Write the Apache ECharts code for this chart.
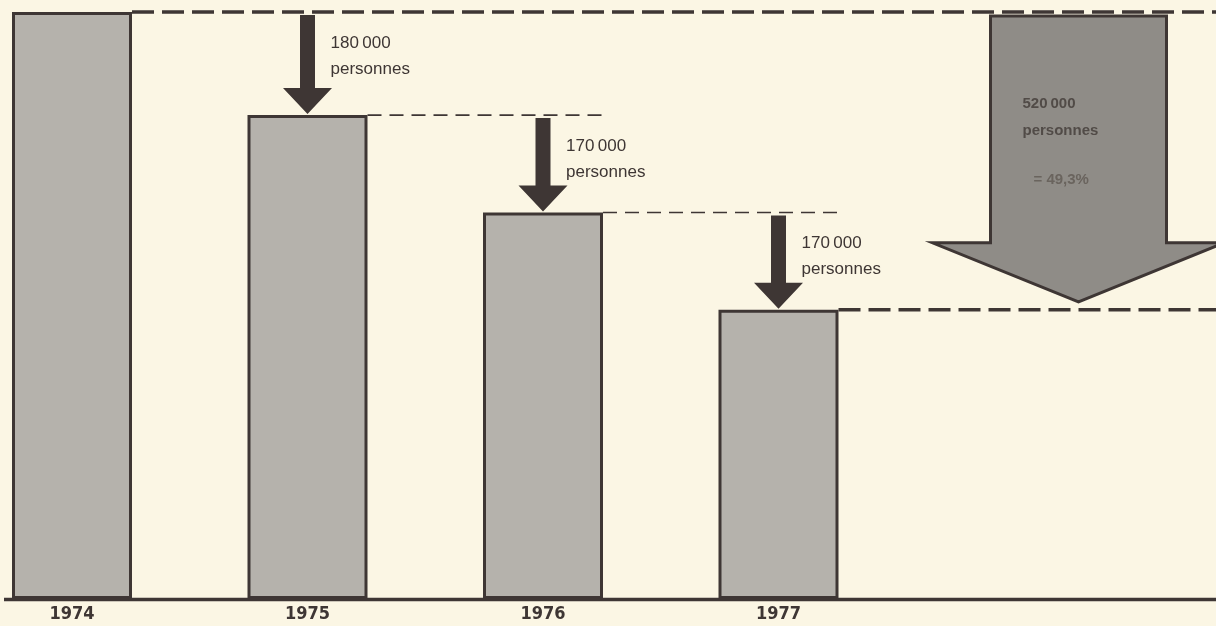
<!DOCTYPE html>
<html><head><meta charset="utf-8">
<script src="https://cdn.jsdelivr.net/npm/echarts@6/dist/echarts.min.js"></script>
<style>html,body{margin:0;padding:0;background:#FBF6E4;} #c{width:1216px;height:626px;}</style>
</head><body><div id="c"></div>
<script>
// ---- data ----
const years = ['1974', '1975', '1976', '1977'];
const persons = [1055000, 875000, 705000, 535000];
const dropLabels = ['180\u202F000', '170\u202F000', '170\u202F000'];
const unitLabel = 'personnes';
const totalDropLabel = '520\u202F000';
const totalPctLabel = '= 49,3%';

// ---- styles ----
const INK = '#3E3634';
const BAR = '#B5B2AC';
const BIG = '#8F8C87';
const BG = '#FBF6E4';
const HALF_BAR = 60;

const chart = echarts.init(document.getElementById('c'), null, {renderer: 'canvas'});

const stepData = [];
for (let i = 1; i < persons.length; i++) stepData.push([i, persons[i - 1], persons[i], dropLabels[i - 1]]);
const connData = persons.map((v, i) => [i, v]);
const last = persons.length - 1;
const totalData = [[last, persons[0], persons[last]]];

const option = {
  backgroundColor: BG,
  animation: false,
  grid: {left: 72, right: 437.5, top: 12, bottom: 27, containLabel: false, outerBoundsMode: 'none'},
  xAxis: {
    type: 'category', data: years, boundaryGap: false,
    axisLine: {show: false}, axisTick: {show: false}, splitLine: {show: false},
    axisLabel: {margin: 6, color: INK, fontSize: 18, fontWeight: 'bold',
      fontFamily: '"DejaVu Sans Condensed", "Liberation Sans Narrow", sans-serif'}
  },
  yAxis: {
    type: 'value', min: 30000, max: 1055000, startValue: 30000, show: false
  },
  series: [
    {
      type: 'custom', name: 'connectors', clip: false, z: 1,
      data: connData, encode: {x: 0, y: 1},
      renderItem: function (params, api) {
        const i = api.value(0);
        const p = api.coord([i, api.value(1)]);
        const x1 = p[0] + HALF_BAR;
        const major = (i === 0 || i === last);
        let x2 = api.getWidth();
        if (!major) x2 = api.coord([i + 1, api.value(1)])[0] + HALF_BAR + 2;
        return {
          type: 'line',
          shape: {x1: x1, y1: p[1], x2: x2, y2: p[1]},
          style: {stroke: INK, lineWidth: major ? 3.5 : 1.6, lineDash: major ? [22, 8] : [14, 8]}
        };
      }
    },
    {
      type: 'bar', name: 'persons', data: persons, barWidth: 120, clip: false, z: 2,
      itemStyle: {color: BAR, borderColor: INK, borderWidth: 3}
    },
    {
      type: 'custom', name: 'steps', clip: false, z: 3,
      data: stepData, encode: {x: 0, y: [1, 2]},
      renderItem: function (params, api) {
        const i = api.value(0);
        const top = api.coord([i, api.value(1)]);
        const tip = api.coord([i, api.value(2)]);
        const cx = tip[0];
        const y0 = top[1] + 3, y1 = tip[1] - 1;
        const hh = 26, sw = 7.5, hw = 24.5;
        const label = stepData[params.dataIndex][3];
        const f = '17px "Liberation Sans", Arimo, sans-serif';
        return {
          type: 'group',
          children: [
            {type: 'polygon', shape: {points: [
              [cx - sw, y0], [cx + sw, y0], [cx + sw, y1 - hh], [cx + hw, y1 - hh],
              [cx, y1], [cx - hw, y1 - hh], [cx - sw, y1 - hh]]},
              style: {fill: INK}},
            {type: 'text', style: {text: label, x: cx + 23, y: top[1] + 31,
              textVerticalAlign: 'middle', fill: INK, font: f}},
            {type: 'text', style: {text: unitLabel, x: cx + 23, y: top[1] + 57,
              textVerticalAlign: 'middle', fill: INK, font: f}}
          ]
        };
      }
    },
    {
      type: 'custom', name: 'total', clip: false, z: 4,
      data: totalData, encode: {x: 0, y: [1, 2]},
      renderItem: function (params, api) {
        const i = api.value(0);
        const top = api.coord([i, api.value(1)]);
        const bot = api.coord([i, api.value(2)]);
        const cx = top[0] + 300;
        const y0 = top[1] + 4, tipY = bot[1] - 8;
        const headTop = tipY - 59, sw = 88, hw = 146;
        const f = 'bold 15px "Liberation Sans", Arimo, sans-serif';
        const col = '#514B47';
        return {
          type: 'group',
          children: [
            {type: 'polygon', shape: {points: [
              [cx - sw, y0], [cx + sw, y0], [cx + sw, headTop], [cx + hw, headTop],
              [cx, tipY], [cx - hw, headTop], [cx - sw, headTop]]},
              style: {fill: BIG, stroke: INK, lineWidth: 3, lineJoin: 'miter'}},
            {type: 'text', style: {text: totalDropLabel, x: cx - 56, y: top[1] + 92,
              textVerticalAlign: 'middle', fill: col, font: f}},
            {type: 'text', style: {text: unitLabel, x: cx - 56, y: top[1] + 119,
              textVerticalAlign: 'middle', fill: col, font: f}},
            {type: 'text', style: {text: totalPctLabel, x: cx - 45, y: top[1] + 168,
              textVerticalAlign: 'middle', fill: '#6A645E', font: f}}
          ]
        };
      }
    }
  ]
};
chart.setOption(option);

// baseline across the full width at the value-axis start
const baseY = chart.convertToPixel({yAxisIndex: 0}, 30000);
chart.setOption({
  graphic: [{type: 'line', z: 10, shape: {x1: 4, y1: baseY + 0.5, x2: 1216, y2: baseY + 0.5},
    style: {stroke: INK, lineWidth: 3.5}}]
});
</script>
</body></html>
